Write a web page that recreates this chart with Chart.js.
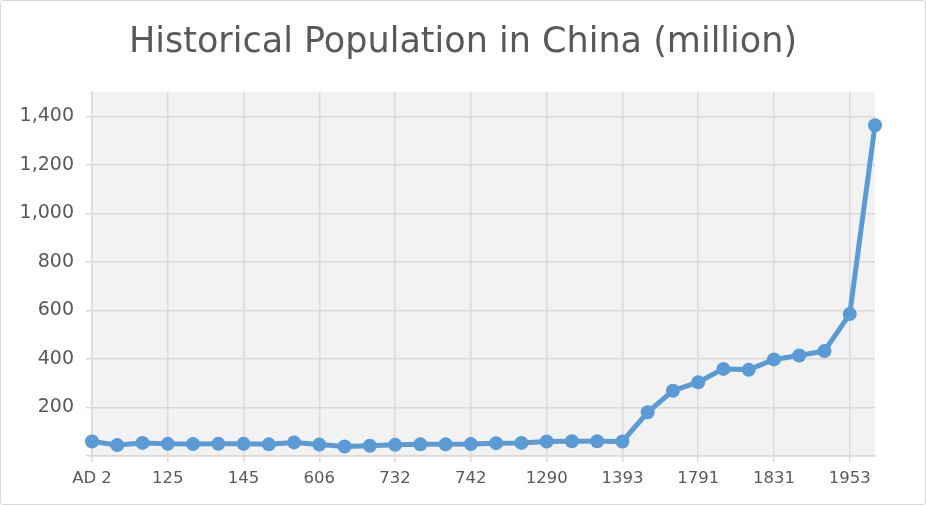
<!DOCTYPE html>
<html>
<head>
<meta charset="utf-8">
<script src="https://cdn.jsdelivr.net/npm/chart.js@4"></script>
<style>
  html, body { margin: 0; padding: 0; background: #fff; }
  #wrap { position: relative; width: 926px; height: 505px; }
  #c { position: absolute; left: 0; top: 0; }
  #frame { position: absolute; left: 0; top: 0; width: 926px; height: 505px; box-sizing: border-box;
           border: 1px solid #d9d9d9; border-radius: 3px; pointer-events: none; }
</style>
</head>
<body>
<div id="wrap">
  <canvas id="c" width="926" height="505"></canvas>
  <div id="frame"></div>
</div>
<script>
const TITLE = 'Historical Population in China (million)';
const years = ['AD 2','88','105','125','140','144','145','146','156','606','705','726',
               '732','734','740','742','754','755','1290','1292','1330','1393','1600','1750',
               '1791','1811','1821','1831','1851','1901','1953','2010'];
const population = [60, 45, 54, 50, 49, 50, 50, 48, 56, 47, 39, 42,
                    46, 48, 48, 49, 53, 54, 60, 61, 61, 60, 180, 269,
                    304, 359, 355, 398, 414, 433, 585, 1363];
const yTicksShown = [200, 400, 600, 800, 1000, 1200, 1400];

const TEXT = '#595959';
const GRID = '#d9d9d9';
const FONT = "'DejaVu Sans', sans-serif";

const bgPlugin = {
  id: 'bg',
  beforeDraw(chart) {
    const { ctx, chartArea: a } = chart;
    ctx.save();
    ctx.fillStyle = '#f2f2f2';
    ctx.fillRect(a.left, a.top, a.right - a.left, a.bottom - a.top);
    ctx.restore();
  },
  afterDraw(chart) {
    const ctx = chart.ctx;
    ctx.save();
    ctx.fillStyle = TEXT;
    ctx.font = "35px " + FONT;
    ctx.textAlign = 'center';
    ctx.textBaseline = 'middle';
    ctx.fillText(TITLE, 463, 43);
    ctx.restore();
  }
};

new Chart(document.getElementById('c'), {
  type: 'line',
  data: {
    labels: years,
    datasets: [{
      data: population,
      borderColor: '#5b9bd5',
      backgroundColor: '#5b9bd5',
      borderWidth: 5,
      pointRadius: 7,
      pointBorderWidth: 0,
      pointBackgroundColor: '#5b9bd5',
      tension: 0
    }]
  },
  options: {
    responsive: false,
    animation: false,
    devicePixelRatio: 1,
    layout: { padding: { top: 92, right: 51, bottom: 0, left: 0 } },
    plugins: { legend: { display: false }, title: { display: false }, tooltip: { enabled: false } },
    scales: {
      x: {
        offset: false,
        afterFit(s) { s.height = 49; },
        border: { display: true, color: GRID, width: 1.5 },
        grid: { color: GRID, lineWidth: 1.5, tickLength: 6, drawTicks: true },
        ticks: {
          autoSkip: false, maxRotation: 0, minRotation: 0,
          color: TEXT, font: { family: FONT, size: 16.5 }, padding: 7,
          callback(v, i) { return i % 3 === 0 ? years[i] : null; }
        }
      },
      y: {
        min: 0, max: 1500,
        afterFit(s) { s.width = 92; },
        afterBuildTicks(s) { s.ticks = [0].concat(yTicksShown).map(v => ({ value: v })); },
        border: { display: true, color: GRID, width: 1.5 },
        grid: { color: GRID, lineWidth: 1.5, tickLength: 6, drawTicks: true },
        ticks: {
          color: TEXT, font: { family: FONT, size: 19 }, padding: 12,
          callback(v) { return v === 0 ? '' : v.toLocaleString('en-US'); }
        }
      }
    }
  },
  plugins: [bgPlugin]
});
</script>
</body>
</html>
